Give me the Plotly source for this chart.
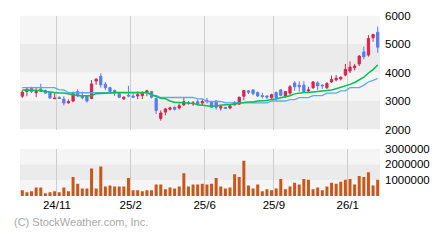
import plotly.graph_objects as go

# ---- data ----
opens = [3167, 3333, 3467, 3290, 3423, 3367, 3310, 3077, 3133, 3067,
         2933, 3000, 3333, 3190, 3167, 3090, 3700, 3867, 3590, 3467,
         3367, 3267, 3077, 3200, 3177, 3177, 3190, 3300, 3333, 3090,
         2390, 2610, 2710, 2777, 2757, 2867, 2943, 2900, 2977, 2933,
         3023, 2967, 3000, 2757, 2777, 2757, 2867, 2890, 3167, 3357,
         3390, 3300, 3190, 3177, 3110, 3300, 3390, 3167, 3277, 3633,
         3557, 3557, 3357, 3467, 3633, 3557, 3467, 3667, 3743, 3777,
         3910, 4057, 4167, 4300, 4723, 4610, 5223, 5410]
highs = [3367, 3467, 3500, 3467, 3600, 3400, 3333, 3277, 3150, 3167,
         3057, 3333, 3410, 3333, 3190, 3733, 3800, 3977, 3667, 3500,
         3400, 3300, 3167, 3533, 3267, 3333, 3333, 3390, 3357, 3110,
         2667, 2757, 2800, 2810, 2910, 3110, 3000, 2990, 3057, 3077,
         3110, 3000, 3023, 2867, 2790, 2867, 2990, 3150, 3390, 3367,
         3400, 3333, 3290, 3200, 3257, 3333, 3423, 3357, 3557, 3690,
         3690, 3690, 3500, 3700, 3690, 3590, 3667, 3890, 3910, 3867,
         4300, 4390, 4300, 4610, 4910, 5310, 5357, 5610]
lows = [3110, 3167, 3277, 3133, 3310, 3250, 3067, 3077, 3070, 2843,
        2910, 2957, 3133, 3057, 2943, 3067, 3567, 3467, 3377, 3277,
        3177, 3100, 3033, 3133, 3100, 3067, 3067, 3167, 3090, 2543,
        2310, 2500, 2667, 2667, 2700, 2823, 2867, 2833, 2833, 2833,
        2910, 2757, 2690, 2667, 2733, 2710, 2843, 2870, 3023, 3243,
        3200, 3133, 3090, 3057, 3077, 3057, 3167, 3110, 3200, 3357,
        3333, 3300, 3277, 3423, 3390, 3423, 3423, 3633, 3690, 3723,
        3867, 3977, 4077, 4223, 4467, 4557, 5077, 4690]
closes = [3310, 3410, 3333, 3333, 3333, 3277, 3110, 3100, 3090, 2933,
          2977, 3267, 3190, 3110, 3000, 3600, 3767, 3567, 3467, 3333,
          3277, 3133, 3133, 3177, 3133, 3223, 3300, 3357, 3133, 2667,
          2577, 2723, 2757, 2710, 2833, 2977, 2910, 2933, 2890, 2977,
          2977, 2777, 2777, 2800, 2743, 2823, 2943, 3133, 3367, 3310,
          3257, 3177, 3157, 3133, 3223, 3110, 3200, 3333, 3500, 3500,
          3500, 3333, 3390, 3667, 3533, 3533, 3610, 3757, 3800, 3833,
          4110, 4190, 4223, 4577, 4557, 5190, 5333, 4890]
ma_short = [3390, 3383, 3383, 3377, 3367, 3333, 3317, 3277, 3277, 3277,
            3250, 3200, 3183, 3183, 3177, 3183, 3257, 3257, 3257, 3283,
            3300, 3300, 3317, 3317, 3317, 3317, 3317, 3300, 3217, 3150,
            3100, 3083, 3000, 2957, 2950, 2950, 2950, 2917, 2867, 2850,
            2833, 2817, 2833, 2857, 2867, 2867, 2900, 2917, 2950, 2967,
            2967, 3000, 3000, 3017, 3057, 3067, 3117, 3150, 3183, 3250,
            3283, 3300, 3300, 3317, 3333, 3350, 3357, 3383, 3433, 3483,
            3517, 3583, 3650, 3750, 3833, 3983, 4100, 4260]
ma_long = [3467, 3467, 3467, 3467, 3467, 3467, 3467, 3467, 3390, 3390,
           3290, 3290, 3290, 3290, 3290, 3290, 3290, 3290, 3290, 3290,
           3290, 3290, 3290, 3290, 3290, 3290, 3290, 3290, 3200, 3200,
           3123, 3123, 3123, 3123, 3123, 3123, 3123, 3123, 3077, 3077,
           2983, 2983, 2983, 2983, 2933, 2933, 2933, 2933, 2933, 2933,
           2933, 2933, 2933, 2933, 3000, 3000, 3000, 3000, 3050, 3050,
           3117, 3117, 3117, 3190, 3190, 3190, 3277, 3277, 3277, 3357,
           3357, 3467, 3467, 3467, 3557, 3667, 3723, 3790]
volumes = [360000, 240000, 300000, 540000, 540000, 180000, 240000, 300000, 240000, 540000,
           300000, 1200000, 780000, 480000, 480000, 1740000, 480000, 1860000, 600000, 660000,
           600000, 600000, 600000, 1140000, 360000, 360000, 300000, 360000, 360000, 720000,
           720000, 420000, 540000, 480000, 600000, 1440000, 600000, 720000, 720000, 780000,
           720000, 780000, 1140000, 600000, 480000, 540000, 1380000, 1200000, 2220000, 660000,
           480000, 720000, 300000, 420000, 360000, 480000, 1080000, 420000, 600000, 840000,
           720000, 1080000, 1020000, 420000, 540000, 360000, 600000, 840000, 780000, 900000,
           1020000, 1080000, 720000, 1260000, 1200000, 1500000, 660000, 1020000]
tick_pos = [7.5, 23.5, 39.5, 54.5, 70.5]
tick_labels = ["24/11", "25/2", "25/6", "25/9", "26/1"]
price_ticks = [2000, 3000, 4000, 5000, 6000]
vol_ticks = [1000000, 2000000, 3000000]
vol_tick_labels = ["1000000", "2000000", "3000000"]

n = len(closes)
idx = list(range(n))

RED = "#d7264c"
BLUE = "#5b7af5"
LIGHT = "#f5f5f5"
DARK = "#ebebeb"
GRID = "#cdcdcd"
FONT = "Liberation Sans, Arial, sans-serif"

fig = go.Figure()

fig.add_trace(go.Candlestick(
    x=idx, open=opens, high=highs, low=lows, close=closes,
    increasing=dict(line=dict(color=RED, width=1), fillcolor=RED),
    decreasing=dict(line=dict(color=BLUE, width=1), fillcolor=BLUE),
    whiskerwidth=0, xaxis="x", yaxis="y", showlegend=False, hoverinfo="skip"))
fig.add_trace(go.Scatter(x=idx, y=ma_long, mode="lines",
                         line=dict(color="#5aaaf2", width=1.3),
                         xaxis="x", yaxis="y", showlegend=False, hoverinfo="skip"))
fig.add_trace(go.Scatter(x=idx, y=ma_short, mode="lines",
                         line=dict(color="#00c24e", width=1.5),
                         xaxis="x", yaxis="y", showlegend=False, hoverinfo="skip"))
fig.add_trace(go.Bar(x=idx, y=volumes, marker=dict(color="#c9571a", line=dict(width=0)),
                     xaxis="x2", yaxis="y2", showlegend=False, hoverinfo="skip"))

shapes = []
for lo, hi, c in [(2000, 3000, DARK), (3000, 4000, LIGHT), (4000, 5000, DARK), (5000, 6000, LIGHT)]:
    shapes.append(dict(type="rect", xref="x domain", yref="y", x0=0, x1=1, y0=lo, y1=hi,
                       fillcolor=c, line=dict(width=0), layer="below"))
for lo, hi, c in [(0, 1000000, LIGHT), (1000000, 2000000, DARK), (2000000, 3000000, LIGHT)]:
    shapes.append(dict(type="rect", xref="x2 domain", yref="y2", x0=0, x1=1, y0=lo, y1=hi,
                       fillcolor=c, line=dict(width=0), layer="below"))

xr = [-0.5, n - 0.5]
fig.update_layout(
    width=440, height=240,
    margin=dict(l=0, r=0, t=0, b=0),
    paper_bgcolor="white", plot_bgcolor="rgba(0,0,0,0)",
    font=dict(family=FONT, size=11, color="black"),
    bargap=0.35, boxgap=0.3,
    shapes=shapes,
    xaxis=dict(domain=[20/440, 380/440], range=xr, anchor="y",
               tickvals=tick_pos, showticklabels=False, showgrid=True,
               gridcolor=GRID, gridwidth=1, zeroline=False,
               rangeslider=dict(visible=False), fixedrange=True),
    yaxis=dict(domain=[(240-130)/240, (240-10)/240], range=[2000, 6000], side="right",
               tickvals=price_ticks, showgrid=False, zeroline=False, anchor="x",
               ticks="", ticklabelstandoff=4, tickfont=dict(size=11.5)),
    xaxis2=dict(domain=[20/440, 380/440], range=xr, anchor="y2",
                tickvals=tick_pos, ticktext=tick_labels, showgrid=True,
                gridcolor=GRID, gridwidth=1, zeroline=False, ticks="",
                tickfont=dict(size=11.5)),
    yaxis2=dict(domain=[(240-200)/240, (240-150)/240], range=[0, 3000000], side="right",
                tickvals=vol_ticks, ticktext=vol_tick_labels, showgrid=False,
                zeroline=False, anchor="x2",
                ticks="", ticklabelstandoff=4, tickfont=dict(size=11.5)),
    annotations=[dict(text="(C) StockWeather.com, Inc.", xref="paper", yref="paper",
                      x=12/440, y=(240-227)/240, xanchor="left", yanchor="middle",
                      showarrow=False, font=dict(size=11, color="#a8a8a8", family=FONT))],
)

fig.write_html("out.html")
